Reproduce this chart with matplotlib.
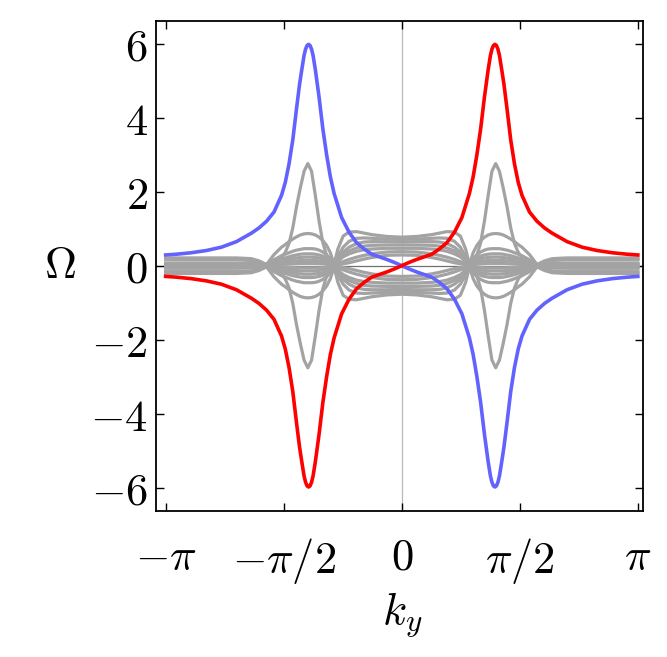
import numpy as np
import matplotlib
matplotlib.use("Agg")
import matplotlib.pyplot as plt

plt.rcParams['mathtext.fontset'] = 'cm'
plt.rcParams['font.family'] = ['DejaVu Serif']

# ---------------- data ----------------
# right half (k >= 0) of the red edge-state curve; left half is odd-mirrored
k_red_half = [0.0, 0.1, 0.2, 0.3, 0.4, 0.5, 0.6, 0.7, 0.8, 0.9, 0.95, 1.0, 1.05,
              1.1, 1.15, 1.18, 1.20, 1.22, 1.24, 1.26, 1.28, 1.30, 1.33, 1.36,
              1.4, 1.45, 1.5, 1.55, 1.6, 1.7, 1.8, 1.9, 2.0, 2.2, 2.4, 2.6, 2.8,
              3.0, np.pi]
red_half = [0.0, 0.09, 0.17, 0.24, 0.31, 0.45, 0.62, 0.9, 1.3, 1.95, 2.4, 3.0, 3.7,
            4.55, 5.3, 5.68, 5.85, 5.95, 5.98, 5.95, 5.85, 5.68, 5.3, 4.9,
            4.25, 3.4, 2.75, 2.25, 1.9, 1.45, 1.2, 1.02, 0.88, 0.65, 0.5, 0.41, 0.35,
            0.31, 0.29]

# gray bulk curves, k >= 0 (even in k, mirrored in Omega)
k_gray_half = [0.0, 0.2, 0.4, 0.5, 0.6, 0.7, 0.78, 0.85, 0.9, 0.95, 1.0, 1.05,
               1.1, 1.15, 1.2, 1.25, 1.3, 1.35, 1.4, 1.45, 1.5, 1.55, 1.6, 1.7,
               1.8, 1.9, 2.0, 2.2, 2.5, 2.8, np.pi]
gray_A = [0.77, 0.79, 0.84, 0.88, 0.92, 0.91, 0.80, 0.45, 0.04, 0.10, 0.28, 0.62,
          1.2, 1.9, 2.55, 2.76, 2.55, 2.1, 1.6, 1.02, 0.6, 0.36, 0.22, 0.09,
          0.03, 0.13, 0.19, 0.21, 0.21, 0.21, 0.21]
gray_B = [0.71, 0.72, 0.74, 0.75, 0.74, 0.66, 0.50, 0.25, 0.03, 0.35, 0.55, 0.68,
          0.77, 0.83, 0.86, 0.87, 0.86, 0.83, 0.78, 0.72, 0.65, 0.57, 0.5, 0.3,
          0.03, 0.11, 0.16, 0.18, 0.18, 0.18, 0.18]
gray_C = [0.64, 0.65, 0.65, 0.64, 0.60, 0.50, 0.37, 0.18, 0.02, 0.18, 0.30, 0.37,
          0.42, 0.45, 0.46, 0.46, 0.46, 0.44, 0.42, 0.39, 0.35, 0.31, 0.27, 0.16,
          0.02, 0.09, 0.14, 0.16, 0.16, 0.16, 0.16]
gray_D = [0.56, 0.56, 0.55, 0.53, 0.48, 0.40, 0.30, 0.14, 0.02, 0.13, 0.21, 0.26,
          0.29, 0.31, 0.32, 0.32, 0.32, 0.31, 0.29, 0.27, 0.24, 0.21, 0.18, 0.11,
          0.02, 0.04, 0.06, 0.07, 0.07, 0.07, 0.07]
gray_E = [0.47, 0.47, 0.45, 0.43, 0.39, 0.32, 0.24, 0.12, 0.015, 0.09, 0.15, 0.19,
          0.21, 0.22, 0.23, 0.23, 0.23, 0.22, 0.21, 0.19, 0.17, 0.15, 0.13, 0.08,
          0.015, 0.03, 0.045, 0.05, 0.05, 0.05, 0.05]
gray_F = [0.38, 0.37, 0.32, 0.28, 0.23, 0.17, 0.11, 0.06, 0.01, 0.06, 0.09, 0.11,
          0.13, 0.14, 0.14, 0.14, 0.14, 0.14, 0.13, 0.12, 0.11, 0.09, 0.08, 0.05,
          0.01, 0.02, 0.03, 0.03, 0.03, 0.03, 0.03]
gray_G = [0.29, 0.28, 0.22, 0.18, 0.13, 0.08, 0.05, 0.03, 0.005, 0.025, 0.04, 0.05,
          0.055, 0.06, 0.06, 0.06, 0.06, 0.06, 0.055, 0.05, 0.045, 0.04, 0.035, 0.02,
          0.005, 0.01, 0.015, 0.015, 0.015, 0.015, 0.015]
gray_curves = [gray_A, gray_B, gray_C, gray_D, gray_E, gray_F, gray_G]

x_ticks = [-np.pi, -np.pi / 2, 0, np.pi / 2, np.pi]
x_ticklabels = [r'$-\pi$', r'$-\pi/2$', r'$0$', r'$\pi/2$', r'$\pi$']
y_ticks = [-6, -4, -2, 0, 2, 4, 6]
y_ticklabels = [r'$-6$', r'$-4$', r'$-2$', r'$0$', r'$2$', r'$4$', r'$6$']

# ---------------- build full arrays ----------------
kr = np.asarray(k_red_half)
rv = np.asarray(red_half)
k_full = np.concatenate([-kr[::-1], kr[1:]])
red_full = np.concatenate([-rv[::-1], rv[1:]])
blue_full = -red_full

kg = np.asarray(k_gray_half)
kg_full = np.concatenate([-kg[::-1], kg[1:]])

# ---------------- plot ----------------
fig = plt.figure(figsize=(6.67, 6.57), dpi=100)
ax = fig.add_axes([0.2339, 0.2227, 0.9640 - 0.2339, 0.9685 - 0.2227])

ax.axvline(0, color='#b8b8b8', lw=0.9, zorder=1)
ax.axhline(0, color='#707070', lw=0.9, zorder=1)

gray = '#a3a3a3'
for g in gray_curves:
    gv = np.asarray(g)
    gfull = np.concatenate([gv[::-1], gv[1:]])
    ax.plot(kg_full, gfull, color=gray, lw=2.3, zorder=2, solid_joinstyle='round')
    ax.plot(kg_full, -gfull, color=gray, lw=2.3, zorder=2, solid_joinstyle='round')

ax.plot(k_full, blue_full, color='#6262ff', lw=2.6, zorder=3, solid_joinstyle='round')
ax.plot(k_full, red_full, color='#ff0000', lw=2.6, zorder=4, solid_joinstyle='round')

ax.set_xlim(-3.27, 3.21)
ax.set_ylim(-6.62, 6.62)
ax.set_xticks(x_ticks)
ax.set_xticklabels(x_ticklabels)
ax.set_yticks(y_ticks)
ax.set_yticklabels(y_ticklabels)
ax.tick_params(direction='in', top=True, right=True, length=6, width=1.0,
               labelsize=32, colors='black')
ax.tick_params(axis='y', pad=6)
ax.tick_params(axis='x', pad=18)
for s in ax.spines.values():
    s.set_linewidth(1.3)

fig.text(60 / 667, 1 - 265 / 657, r'$\Omega$', fontsize=32, ha='center', va='center')
fig.text(402 / 667, 1 - 615 / 657, r'$k_y$', fontsize=32, ha='center', va='center')

fig.savefig('out.png', dpi=100)
